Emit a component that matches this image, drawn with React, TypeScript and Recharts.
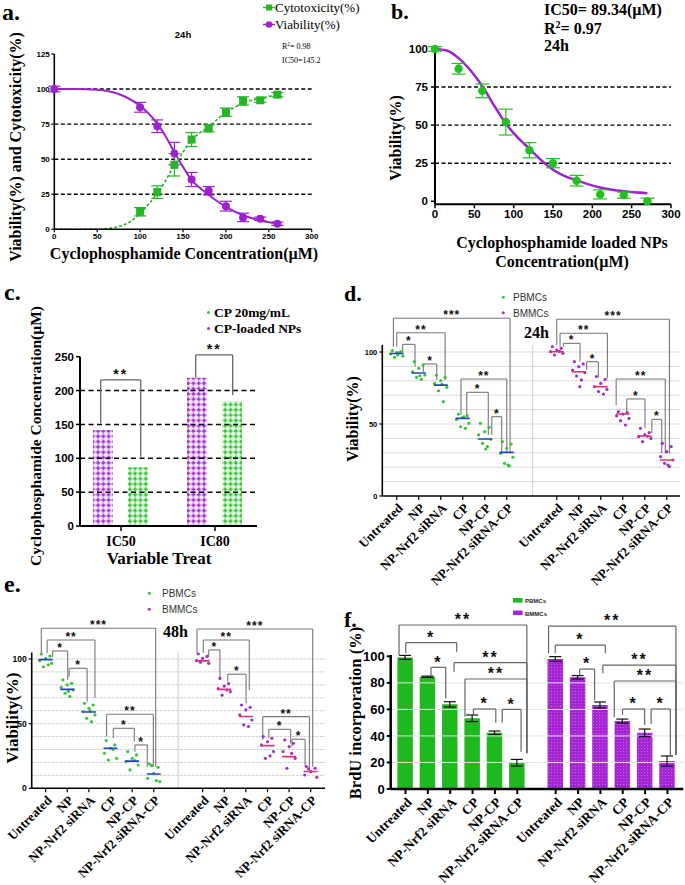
import React from 'react';
import {
  ComposedChart, Bar, Line, Scatter, XAxis, YAxis,
  ReferenceLine, ReferenceDot, ErrorBar, Cell,
} from 'recharts';

const SERIF = '"Liberation Serif","Times New Roman",serif';
const SANS = '"Liberation Sans",Arial,sans-serif';
const PURPLE = '#9c22d0';
const GREEN = '#26b526';
const DOT_GREEN = '#35c435';
const DOT_PURPLE = '#a030c8';

// ---------------- Panel a ----------------
const aConc = [0, 100, 120, 140, 160, 180, 200, 220, 240, 260];
const aViability = [100, 87, 73.5, 54, 35.5, 27.5, 16.5, 8.5, 7.5, 4];
const aViabilityErr = [2, 3.5, 4.5, 8, 5, 3, 3.5, 3, 1.2, 1.2];
const aCytoConc = [100, 120, 140, 160, 180, 200, 220, 240, 260];
const aCytotoxicity = [12.5, 26.5, 46, 64, 72, 83.5, 91.5, 92, 96];
const aCytotoxicityErr = [3, 4.5, 8, 5, 2.5, 3, 3, 1.5, 1.5];
const aViabFitX = [0, 25, 50, 75, 100, 110, 120, 130, 140, 150, 160, 170, 180, 190, 200, 220, 240, 260];
const aViabFitY = [100, 100, 99.5, 96.5, 88, 82.5, 75.5, 66, 55, 44.5, 35, 29.5, 24.5, 20, 16, 10, 6.3, 4];
const aCytoFitX = [0, 50, 60, 75, 90, 100, 110, 120, 130, 140, 150, 160, 170, 180, 190, 200, 220, 240, 260];
const aCytoFitY = [0, 0, 0.5, 2, 6, 11.4, 18, 25.6, 35, 46, 55, 63.6, 69, 73, 78.5, 83, 90, 93.4, 96];

// ---------------- Panel b ----------------
const bConc = [0, 30, 60, 90, 120, 150, 180, 210, 240, 270];
const bViability = [100, 87, 72.5, 52, 33.5, 25, 13.5, 4.5, 4, 0];
const bViabilityErr = [1.5, 3.5, 4.5, 8.5, 5, 3, 3.5, 3, 2, 2];
const bFitX = [0, 15, 30, 45, 60, 75, 90, 105, 120, 135, 150, 165, 180, 210, 240, 270];
const bFitY = [100, 99, 94, 86, 75.7, 63, 51, 42, 34.5, 27, 20.7, 16.5, 13.7, 9, 6.5, 5.3];

// ---------------- Panel c ----------------
const cCategories = ['IC50', 'IC80'];
const cLoadedNPs = [141.8, 219];
const cCP20 = [86.7, 184.6];

// ---------------- Panels d, e, f ----------------
const CATS = ['Untreated', 'NP', 'NP-Nrf2 siRNA', 'CP', 'NP-CP', 'NP-Nrf2 siRNA-CP'];
const JITTER = [-0.2, 0.2, 0, -0.28, 0.28, -0.1, 0.12, 0.05, -0.15];

const dPBMC = [
  [101, 100.2, 99.5, 98.6, 97.2, 96.3, 99.8, 98],
  [93.3, 91, 88.7, 86.3, 84, 82.4, 81, 83.5],
  [84, 82.2, 80.1, 78.2, 75.5, 73.1, 65.5, 77.5],
  [56.9, 55.8, 54.6, 53.2, 50.5, 48.1, 47, 55],
  [50.5, 47.7, 44.7, 42.4, 39.4, 36.6, 34.3, 32.6],
  [37.7, 36.1, 33.1, 29.6, 26.9, 22.7, 20.8, 21.5],
];
const dPBMCMean = [99, 85.4, 77, 53.9, 39.6, 30.3];
const dBMMC = [
  [103.7, 102.5, 101.4, 100.2, 99.1, 97.9, 100.5],
  [93.3, 91.7, 89.8, 87.5, 85.6, 83.3, 80.6, 75.9],
  [82.9, 81, 78.2, 75.9, 74.1, 72.5, 70.8],
  [58.6, 57.9, 56.9, 55.6, 53.9, 52.3, 49.3],
  [47, 44, 42.6, 41.2, 40, 37.7, 41.5],
  [36.6, 34.3, 30.8, 27.3, 25, 22.7, 20.4, 21.5],
];
const dBMMCMean = [100.2, 86.3, 75.9, 56.9, 41.7, 25];

const ePBMC = [
  [103.9, 102.3, 100.5, 98.7, 96.6, 94, 95.5],
  [83.8, 81.2, 79.9, 78.1, 76, 73.5, 70.9, 75],
  [65.7, 64.4, 61.9, 59.3, 56.7, 54.1, 51.5, 60],
  [36.9, 33.5, 30.9, 27.1, 23.2, 21.9, 30],
  [28.4, 25.8, 23.2, 20.6, 18, 14.2, 21.5],
  [18.8, 16.2, 11.6, 7.7, 5.2, 17.5, 6],
];
const ePBMCMean = [99.5, 76.5, 59, 31, 21, 11];
const eBMMC = [
  [104, 102, 100.5, 98.7, 96.6, 97.5],
  [85, 81, 79, 77, 74.7, 72, 76],
  [64.4, 62.6, 60.6, 56.7, 52.8, 49, 47.7],
  [40, 38.7, 36, 33.5, 28.4, 23.2, 25],
  [37.4, 34.8, 32.2, 28.4, 23.2, 15.5, 27],
  [16.8, 15.5, 12.9, 10.3, 8.5, 15],
];
const eBMMCMean = [98.5, 76.5, 55.5, 33, 24.5, 13];

const fPBMC = [99.2, 84.6, 63.8, 53.3, 42.4, 19.8];
const fPBMCErr = [1.5, 0.5, 2, 2.5, 1.3, 2.5];
const fBMMC = [98, 84.2, 63.3, 51.2, 42.4, 21.1];
const fBMMCErr = [1.8, 1.3, 2.3, 1.5, 2.8, 3.8];

// significance brackets: [x1, x2, top, leftLegEnd, rightLegEnd, label]
type Br = [number, number, number, number, number, string];
const cBrackets: Br[] = [
  [0.784, 1.21, 215.7, 151.7, 102.4, '**'],
  [1.795, 2.188, 252.6, 219, 193.5, '**'],
];
const dBrackets: Br[] = [
  [0.85, 6.15, 123.4, 103.7, 30.8, '***'],
  [1.0, 3.2, 113.4, 103.7, 80.5, '**'],
  [1.27, 1.83, 105.3, 100.2, 89.8, '*'],
  [2.21, 2.82, 91.7, 86.3, 80.5, '*'],
  [3.92, 6.0, 81.3, 56.3, 30.8, '**'],
  [4.18, 5.16, 72, 56.3, 42.4, '*'],
  [5.32, 5.77, 55.1, 42.4, 30.8, '*'],
  [8.27, 13.39, 122.7, 104.9, 29.6, '***'],
  [8.42, 10.57, 113, 103.7, 81.7, '**'],
  [8.57, 9.33, 106, 103.7, 93.3, '*'],
  [9.63, 10.16, 93.3, 87.5, 82.4, '*'],
  [10.97, 13.2, 81.3, 63.2, 29.6, '**'],
  [11.45, 12.28, 67.4, 58.5, 47, '*'],
  [12.59, 13.04, 53.2, 43.5, 29.6, '*'],
];
const eBrackets: Br[] = [
  [0.8, 6.09, 123.7, 104.6, 16.7, '***'],
  [1.07, 3.28, 114.7, 104.6, 69.8, '**'],
  [1.32, 2.02, 106.2, 101.5, 83.8, '*'],
  [2.09, 2.92, 92.8, 86.3, 67, '*'],
  [3.82, 5.98, 57.2, 40, 16.7, '**'],
  [4.13, 5.1, 46.4, 38.9, 36, '*'],
  [5.13, 5.7, 33.5, 28.3, 16.7, '*'],
  [8.0, 13.35, 123.2, 104.6, 16.7, '***'],
  [8.29, 10.42, 114.7, 104.6, 76, '**'],
  [8.54, 9.06, 107, 101.5, 83.8, '*'],
  [9.42, 10.27, 88.2, 82.5, 65.7, '*'],
  [11.04, 13.2, 55.4, 37.4, 15.5, '**'],
  [11.32, 12.33, 45.6, 39, 34.8, '*'],
  [12.39, 13.0, 37.9, 32.2, 16.7, '*'],
];
const fBrackets: Br[] = [
  [0.71, 6.43, 123.6, 101, 26.9, '**'],
  [1.01, 3.29, 110.3, 102.3, 103.5, '*'],
  [2.14, 2.8, 91.7, 85.2, 68.3, '*'],
  [3.17, 6.43, 95.2, 88.4, 26.9, '**'],
  [3.66, 6.43, 82.9, 54.5, 26.9, '**'],
  [4.04, 5.04, 60.3, 55.8, 50, '*'],
  [5.33, 6.17, 60, 50, 28.1, '*'],
  [7.4, 13.1, 122.8, 102.3, 25.6, '**'],
  [7.7, 9.94, 108.5, 102.3, 102.3, '*'],
  [8.79, 9.46, 90.4, 85.9, 67, '*'],
  [9.83, 13.1, 93.4, 87.2, 25.6, '**'],
  [10.34, 13.1, 81.4, 54, 25.6, '**'],
  [10.71, 11.7, 60.3, 55.8, 48.2, '*'],
  [11.99, 12.85, 60.3, 49, 25.6, '*'],
];

// ---------------- helpers ----------------
type Box = { left: number; top: number; w: number; h: number };
function margins(b: Box, x0: number, x1: number, y0: number, y1: number, yW: number, xH: number) {
  return { left: x0 - b.left - yW, right: b.left + b.w - x1, top: y0 - b.top, bottom: b.top + b.h - y1 - xH };
}
const AX = (w: number) => ({ stroke: '#000', strokeWidth: w });

function renderBrackets(list: Br[], o: { color: string; fs: number; gap: number; sw: number; ls: number }) {
  return list.flatMap((b, i) => {
    const [x1, x2, top, l, r, label] = b;
    const common = { stroke: o.color, strokeWidth: o.sw, ifOverflow: 'visible' as const };
    return [
      <ReferenceLine key={`bl${i}`} {...common} segment={[{ x: x1, y: l }, { x: x1, y: top }]} />,
      <ReferenceLine key={`bt${i}`} {...common} segment={[{ x: x1, y: top }, { x: x2, y: top }]} />,
      <ReferenceLine key={`br${i}`} {...common} segment={[{ x: x2, y: top }, { x: x2, y: r }]} />,
      <ReferenceDot key={`bs${i}`} x={(x1 + x2) / 2} y={top} r={0} ifOverflow="visible"
        shape={(p: any) => (
          <text x={p.cx} y={p.cy - o.gap + 0.58 * o.fs} textAnchor="middle" fontFamily={SANS}
            fontWeight={700} fontSize={o.fs} letterSpacing={o.ls} fill="#111">{label}</text>
        )} />,
    ];
  });
}

function makeRotTick(positions: number[], labels: string[], fs: number) {
  return (props: any) => {
    const { x, y, payload } = props;
    const idx = positions.findIndex((p) => Math.abs(p - payload.value) < 1e-6);
    const label = idx >= 0 ? labels[idx % labels.length] : '';
    return (
      <g transform={`translate(${x},${y})`}>
        <text x={0} y={0} dy={fs * 0.75} textAnchor="end" transform="rotate(-45)" fontFamily={SERIF}
          fontWeight={700} fontSize={fs} fill="#000">{label}</text>
      </g>
    );
  };
}

const square = (color: string, s: number) => (p: any) => (
  <rect x={p.cx - s / 2} y={p.cy - s / 2} width={s} height={s} fill={color} />
);
const circle = (color: string, r: number) => (p: any) => <circle cx={p.cx} cy={p.cy} r={r} fill={color} />;
const hbar = (color: string, half: number) => (p: any) => (
  <line x1={p.cx - half} x2={p.cx + half} y1={p.cy} y2={p.cy} stroke={color} strokeWidth={1.6} />
);

// ---------------- Panels ----------------
function PanelA() {
  const box: Box = { left: 0, top: 0, w: 340, h: 280 };
  const m = margins(box, 54.3, 311.7, 54, 229.3, 30, 20);
  const viabPts = aConc.map((x, i) => ({ x, y: aViability[i], e: aViabilityErr[i] }));
  const cytoPts = aCytoConc.map((x, i) => ({ x, y: aCytotoxicity[i], e: aCytotoxicityErr[i] }));
  const viabFit = aViabFitX.map((x, i) => ({ x, y: aViabFitY[i] }));
  const cytoFit = aCytoFitX.map((x, i) => ({ x, y: aCytoFitY[i] }));
  const tick = { fontFamily: SANS, fontSize: 8, fontWeight: 700, fill: '#000' };
  return (
    <ComposedChart width={box.w} height={box.h} margin={m}>
      <XAxis type="number" dataKey="x" domain={[0, 300]} ticks={[0, 50, 100, 150, 200, 250, 300]} interval={0}
        height={20} axisLine={AX(1.6)} tickLine={AX(1.2)} tickSize={3} tickMargin={1} tick={tick} />
      <YAxis type="number" domain={[0, 125]} ticks={[0, 25, 50, 75, 100, 125]} interval={0} width={30}
        axisLine={AX(1.6)} tickLine={AX(1.2)} tickSize={3} tickMargin={1.5} tick={tick} />
      {[25, 50, 75, 100].map((v) => (
        <ReferenceLine key={v} y={v} stroke="#000" strokeWidth={1.4} strokeDasharray="4 2.5" />
      ))}
      <Line data={viabFit} dataKey="y" type="monotone" stroke={PURPLE} strokeWidth={2} dot={false} isAnimationActive={false} />
      <Line data={cytoFit} dataKey="y" type="monotone" stroke={GREEN} strokeWidth={1.6} strokeDasharray="3 2" dot={false} isAnimationActive={false} />
      <Scatter data={cytoPts} dataKey="y" fill={GREEN} shape={square(GREEN, 8)} isAnimationActive={false}>
        <ErrorBar dataKey="e" direction="y" width={6} stroke={GREEN} strokeWidth={1.2} />
      </Scatter>
      <Scatter data={viabPts} dataKey="y" fill={PURPLE} shape={circle(PURPLE, 4)} isAnimationActive={false}>
        <ErrorBar dataKey="e" direction="y" width={6} stroke={PURPLE} strokeWidth={1.2} />
      </Scatter>
    </ComposedChart>
  );
}

function PanelB() {
  const box: Box = { left: 340, top: 0, w: 345, h: 280 };
  const m = margins(box, 435, 671, 46.7, 204.3, 30, 20);
  const pts = bConc.map((x, i) => ({ x, y: bViability[i], e: bViabilityErr[i] }));
  const fit = bFitX.map((x, i) => ({ x, y: bFitY[i] }));
  const tick = { fontFamily: SANS, fontSize: 11.5, fontWeight: 700, fill: '#000' };
  return (
    <ComposedChart width={box.w} height={box.h} margin={m}>
      <XAxis type="number" dataKey="x" domain={[0, 300]} ticks={[0, 50, 100, 150, 200, 250, 300]} interval={0}
        height={20} axisLine={AX(2)} tickLine={AX(1.5)} tickSize={4} tickMargin={2} tick={tick} />
      <YAxis type="number" domain={[0, 100]} ticks={[0, 25, 50, 75, 100]} interval={0} width={30}
        axisLine={AX(2)} tickLine={AX(1.5)} tickSize={4} tickMargin={3} tick={tick} />
      {[25, 50, 75].map((v) => (
        <ReferenceLine key={v} y={v} stroke="#000" strokeWidth={1.4} strokeDasharray="4 2.5" />
      ))}
      <Line data={fit} dataKey="y" type="monotone" stroke={PURPLE} strokeWidth={2.5} dot={false} isAnimationActive={false} />
      <Scatter data={pts} dataKey="y" fill={GREEN} shape={circle('#22c022', 4.2)} isAnimationActive={false}>
        <ErrorBar dataKey="e" direction="y" width={7} stroke="#22c022" strokeWidth={1.2} />
      </Scatter>
    </ComposedChart>
  );
}

function PanelC() {
  const box: Box = { left: 0, top: 280, w: 340, h: 290 };
  const m = margins(box, 80, 257, 356.7, 526, 30, 22);
  const pos = cCategories.map((_, i) => i + 1);
  const data = cCategories.map((cat, i) => ({ x: pos[i], cat, np: cLoadedNPs[i], cp: cCP20[i] }));
  const tick = { fontFamily: SANS, fontSize: 11.5, fontWeight: 700, fill: '#000' };
  return (
    <ComposedChart width={box.w} height={box.h} margin={m} data={data} barGap={15}>
      <XAxis type="number" dataKey="x" domain={[0.564, 2.447]} allowDataOverflow ticks={pos} interval={0}
        tickFormatter={(v: number) => cCategories[Math.round(v) - 1] || ''}
        height={22} axisLine={AX(2)} tickLine={AX(1.5)} tickSize={5} tickMargin={5}
        tick={{ fontFamily: SERIF, fontSize: 14, fontWeight: 700, fill: '#000' }} />
      <YAxis type="number" domain={[0, 250]} ticks={[0, 50, 100, 150, 200, 250]} interval={0} width={30}
        axisLine={AX(2)} tickLine={AX(1.5)} tickSize={4} tickMargin={2} tick={tick} />
      {[50, 100, 150, 200].map((v) => (
        <ReferenceLine key={v} y={v} stroke="#000" strokeWidth={1.5} strokeDasharray="5 3.5" />
      ))}
      <Bar dataKey="np" barSize={20} fill="url(#patPurple)" isAnimationActive={false} />
      <Bar dataKey="cp" barSize={20} fill="url(#patGreen)" isAnimationActive={false} />
      {renderBrackets(cBrackets, { color: '#666', fs: 14, gap: 9, sw: 1.3, ls: 2 })}
    </ComposedChart>
  );
}

type DotPanelProps = {
  box: Box; x0: number; x1: number; y0: number; y1: number; yW: number;
  xDomain: [number, number]; rightOffset: number; sep: number;
  pDots: number[][]; bDots: number[][]; pMean: number[]; bMean: number[];
  brackets: Br[]; tickFs: number; yTickFs: number;
};

function DotPanel(props: DotPanelProps) {
  const { box, x0, x1, y0, y1, yW, xDomain, rightOffset, sep, pDots, bDots, pMean, bMean, brackets, tickFs, yTickFs } = props;
  const m = margins(box, x0, x1, y0, y1, yW, 80);
  const leftPos = CATS.map((_, i) => i + 1);
  const rightPos = leftPos.map((p) => p + rightOffset);
  const positions = [...leftPos, ...rightPos];
  const pPts = pDots.flatMap((vals, ci) => vals.map((v, j) => ({ x: leftPos[ci] + JITTER[j % JITTER.length], y: v })));
  const bPts = bDots.flatMap((vals, ci) => vals.map((v, j) => ({ x: rightPos[ci] + JITTER[j % JITTER.length], y: v })));
  const pM = pMean.map((v, i) => ({ x: leftPos[i], y: v }));
  const bM = bMean.map((v, i) => ({ x: rightPos[i], y: v }));
  const grid = [10, 20, 30, 40, 50, 60, 70, 80, 90, 100];
  return (
    <ComposedChart width={box.w} height={box.h} margin={m}>
      <XAxis type="number" dataKey="x" domain={xDomain} allowDataOverflow ticks={positions} interval={0} height={80}
        axisLine={AX(1.6)} tickLine={AX(1.2)} tickSize={4} tickMargin={2} tick={makeRotTick(positions, CATS, tickFs)} />
      <YAxis type="number" domain={[0, 105]} allowDataOverflow ticks={[0, 50, 100]} interval={0} width={yW}
        axisLine={AX(1.6)} tickLine={AX(1.2)} tickSize={3} tickMargin={2}
        tick={{ fontFamily: SANS, fontSize: yTickFs, fontWeight: 700, fill: '#000' }} />
      {grid.map((v) => (
        <ReferenceLine key={v} y={v} stroke="#cfcfcf" strokeWidth={1} strokeDasharray="3 1" />
      ))}
      <ReferenceLine segment={[{ x: sep, y: 0 }, { x: sep, y: 105 }]} stroke="#cfcfcf" strokeWidth={1} />
      <Scatter data={pPts} dataKey="y" shape={circle(DOT_GREEN, 1.6)} isAnimationActive={false} />
      <Scatter data={bPts} dataKey="y" shape={circle(DOT_PURPLE, 1.6)} isAnimationActive={false} />
      <Scatter data={pM} dataKey="y" shape={hbar('#2440c0', 7)} isAnimationActive={false} />
      <Scatter data={bM} dataKey="y" shape={hbar('#e3306e', 7)} isAnimationActive={false} />
      {renderBrackets(brackets, { color: '#777', fs: 12, gap: 6, sw: 1.1, ls: 1 })}
    </ComposedChart>
  );
}

function PanelF() {
  const box: Box = { left: 340, top: 570, w: 345, h: 315 };
  const m = margins(box, 390.7, 683.3, 655, 789, 35, 80);
  const leftPos = CATS.map((_, i) => i + 1);
  const rightPos = leftPos.map((p) => p + 6.72);
  const positions = [...leftPos, ...rightPos];
  const data = [
    ...fPBMC.map((v, i) => ({ x: leftPos[i], v, e: fPBMCErr[i], g: 'P' })),
    ...fBMMC.map((v, i) => ({ x: rightPos[i], v, e: fBMMCErr[i], g: 'B' })),
  ];
  return (
    <ComposedChart width={box.w} height={box.h} margin={m} data={data}>
      <XAxis type="number" dataKey="x" domain={[0.337, 13.43]} allowDataOverflow ticks={positions} interval={0} height={80}
        axisLine={AX(2.5)} tickLine={AX(2)} tickSize={5} tickMargin={2} tick={makeRotTick(positions, CATS, 13.5)} />
      <YAxis type="number" domain={[0, 101]} allowDataOverflow ticks={[0, 20, 40, 60, 80, 100]} interval={0} width={35}
        axisLine={AX(2.5)} tickLine={AX(2)} tickSize={4} tickMargin={2}
        tick={{ fontFamily: SANS, fontSize: 13, fontWeight: 700, fill: '#000' }} />
      {[20, 40, 60, 80].map((v) => (
        <ReferenceLine key={v} y={v} stroke="#e2e2e2" strokeWidth={1} />
      ))}
      <Bar dataKey="v" barSize={15.5} isAnimationActive={false}>
        {data.map((d, i) => (
          <Cell key={i} fill={d.g === 'P' ? '#1fb81f' : 'url(#patPurpleFine)'} />
        ))}
        <ErrorBar dataKey="e" direction="y" width={6} stroke="#111" strokeWidth={1.2} />
      </Bar>
      {renderBrackets(fBrackets, { color: '#666', fs: 16, gap: 9, sw: 1.2, ls: 2 })}
    </ComposedChart>
  );
}

function Patterns() {
  return (
    <svg width={0} height={0} style={{ position: 'absolute' }}>
      <defs>
        <pattern id="patPurple" width={5.3} height={5.3} patternUnits="userSpaceOnUse">
          <rect width={5.3} height={5.3} fill="#f3e4f7" />
          <rect x={0.6} y={1.9} width={4.1} height={1.5} fill="#a22fd6" />
          <rect x={1.9} y={0.6} width={1.5} height={4.1} fill="#a22fd6" />
        </pattern>
        <pattern id="patGreen" width={5.3} height={5.3} patternUnits="userSpaceOnUse">
          <rect width={5.3} height={5.3} fill="#e6f7e6" />
          <rect x={0.6} y={1.9} width={4.1} height={1.5} fill="#2ec52e" />
          <rect x={1.9} y={0.6} width={1.5} height={4.1} fill="#2ec52e" />
        </pattern>
        <pattern id="patPurpleFine" width={3} height={3} patternUnits="userSpaceOnUse">
          <rect width={3} height={3} fill="#a524d4" />
          <circle cx={1.5} cy={1.5} r={0.6} fill="#c56ae4" />
        </pattern>
      </defs>
    </svg>
  );
}

function Overlay() {
  const bold = { fontFamily: SERIF, fontWeight: 700, fill: '#000' } as const;
  const rot = (x: number, y: number) => `rotate(-90 ${x} ${y})`;
  return (
    <svg width={685} height={885} style={{ position: 'absolute', left: 0, top: 0, pointerEvents: 'none' }}>
      {/* panel letters */}
      <text x={2} y={20} fontSize={24} {...bold}>a.</text>
      <text x={391} y={19} fontSize={22} {...bold}>b.</text>
      <text x={4} y={300} fontSize={24} {...bold}>c.</text>
      <text x={344} y={301} fontSize={22} {...bold}>d.</text>
      <text x={4} y={592} fontSize={24} {...bold}>e.</text>
      <text x={344} y={627} fontSize={22} {...bold}>f.</text>

      {/* panel a */}
      <text x={21} y={147} fontSize={16} textAnchor="middle" transform={rot(21, 147)} {...bold}>Viability(%) and Cytotoxicity(%)</text>
      <text x={184} y={259} fontSize={16} textAnchor="middle" {...bold}>Cyclophosphamide Concentration(µM)</text>
      <text x={183} y={38} fontSize={9.5} textAnchor="middle" fontFamily={SANS} fontWeight={700}>24h</text>
      <line x1={263} x2={275} y1={7.5} y2={7.5} stroke={GREEN} strokeWidth={1.5} />
      <rect x={266} y={4.5} width={6} height={6} fill={GREEN} />
      <text x={275} y={12} fontSize={13} fontFamily={SERIF}>Cytotoxicity(%)</text>
      <line x1={263} x2={275} y1={24.5} y2={24.5} stroke={PURPLE} strokeWidth={1.5} />
      <circle cx={269} cy={24.5} r={3.3} fill={PURPLE} />
      <text x={275} y={29} fontSize={13} fontFamily={SERIF}>Viability(%)</text>
      <text x={282} y={49} fontSize={8} fontFamily={SERIF}>R<tspan dy={-3} fontSize={5.5}>2</tspan><tspan dy={3}>= 0.98</tspan></text>
      <text x={282} y={63} fontSize={8} fontFamily={SERIF}>IC50=145.2</text>

      {/* panel b */}
      <text x={544} y={15} fontSize={16} {...bold}>IC50= 89.34(µM)</text>
      <text x={544} y={34} fontSize={16} {...bold}>R<tspan dy={-6} fontSize={10}>2</tspan><tspan dy={6}>= 0.97</tspan></text>
      <text x={544} y={51} fontSize={16} {...bold}>24h</text>
      <text x={401} y={138} fontSize={16} textAnchor="middle" transform={rot(401, 138)} {...bold}>Viability(%)</text>
      <text x={562} y={248} fontSize={16} textAnchor="middle" {...bold}>Cyclophosphamide loaded NPs</text>
      <text x={562} y={267} fontSize={16} textAnchor="middle" {...bold}>Concentration(µM)</text>

      {/* panel c */}
      <text x={41} y={436} fontSize={15.5} textAnchor="middle" transform={rot(41, 436)} {...bold}>Cyclophosphamide Concentration(µM)</text>
      <text x={159} y={564} fontSize={17} textAnchor="middle" {...bold}>Variable Treat</text>
      <circle cx={208.5} cy={312.5} r={1.5} fill="#2ec52e" />
      <text x={214} y={317} fontSize={13.5} {...bold}>CP 20mg/mL</text>
      <circle cx={208.5} cy={328.5} r={1.5} fill="#a22fd6" />
      <text x={214} y={333} fontSize={13.5} {...bold}>CP-loaded NPs</text>

      {/* panel d */}
      <text x={358} y={419} fontSize={16} textAnchor="middle" transform={rot(358, 419)} {...bold}>Viability(%)</text>
      <circle cx={503.3} cy={297.3} r={1.5} fill={DOT_GREEN} />
      <text x={513} y={301} fontSize={10} fontFamily={SANS} fill="#333">PBMCs</text>
      <circle cx={503.3} cy={312.7} r={1.5} fill={DOT_PURPLE} />
      <text x={513} y={316.5} fontSize={10} fontFamily={SANS} fill="#333">BMMCs</text>
      <text x={524} y={338} fontSize={16} {...bold}>24h</text>

      {/* panel e */}
      <text x={18} y={718} fontSize={17} textAnchor="middle" transform={rot(18, 718)} {...bold}>Viability(%)</text>
      <circle cx={149.3} cy={593.3} r={1.5} fill={DOT_GREEN} />
      <text x={162} y={597} fontSize={10} fontFamily={SANS} fill="#333">PBMCs</text>
      <circle cx={149.3} cy={609.3} r={1.5} fill={DOT_PURPLE} />
      <text x={162} y={613} fontSize={10} fontFamily={SANS} fill="#333">BMMCs</text>
      <text x={163} y={637} fontSize={16} {...bold}>48h</text>

      {/* panel f */}
      <text x={361} y={713} fontSize={16.5} textAnchor="middle" transform={rot(361, 713)} {...bold}>BrdU incorporation (%)</text>
      <rect x={513} y={598} width={9.5} height={4.6} fill="#1fb81f" />
      <text x={525} y={603} fontSize={6} fontFamily={SANS} fontWeight={700} fill="#222">PBMCs</text>
      <rect x={513} y={610.5} width={9.5} height={4.6} fill="#a524d4" />
      <text x={525} y={615.5} fontSize={6} fontFamily={SANS} fontWeight={700} fill="#222">BMMCs</text>
    </svg>
  );
}

const place = (b: Box, child: React.ReactNode) => (
  <div style={{ position: 'absolute', left: b.left, top: b.top }}>{child}</div>
);

export default function App() {
  return (
    <div style={{ position: 'absolute', left: 0, top: 0, width: 685, height: 885, background: '#fff', overflow: 'hidden' }}>
      <Patterns />
      {place({ left: 0, top: 0, w: 340, h: 280 }, <PanelA />)}
      {place({ left: 340, top: 0, w: 345, h: 280 }, <PanelB />)}
      {place({ left: 0, top: 280, w: 340, h: 290 }, <PanelC />)}
      {place({ left: 340, top: 280, w: 345, h: 310 },
        <DotPanel box={{ left: 340, top: 280, w: 345, h: 310 }} x0={382.3} x1={680} y0={344.8} y1={496} yW={30}
          xDomain={[0.345, 13.87]} rightOffset={7.27} sep={7.18}
          pDots={dPBMC} bDots={dBMMC} pMean={dPBMCMean} bMean={dBMMCMean} brackets={dBrackets} tickFs={13} yTickFs={7.5} />)}
      {place({ left: 0, top: 570, w: 340, h: 315 },
        <DotPanel box={{ left: 0, top: 570, w: 340, h: 315 }} x0={31.7} x1={325} y0={652.5} y1={788.3} yW={25}
          xDomain={[0.355, 13.92]} rightOffset={7.26} sep={7.13}
          pDots={ePBMC} bDots={eBMMC} pMean={ePBMCMean} bMean={eBMMCMean} brackets={eBrackets} tickFs={13} yTickFs={8.5} />)}
      {place({ left: 340, top: 570, w: 345, h: 315 }, <PanelF />)}
      <Overlay />
    </div>
  );
}
